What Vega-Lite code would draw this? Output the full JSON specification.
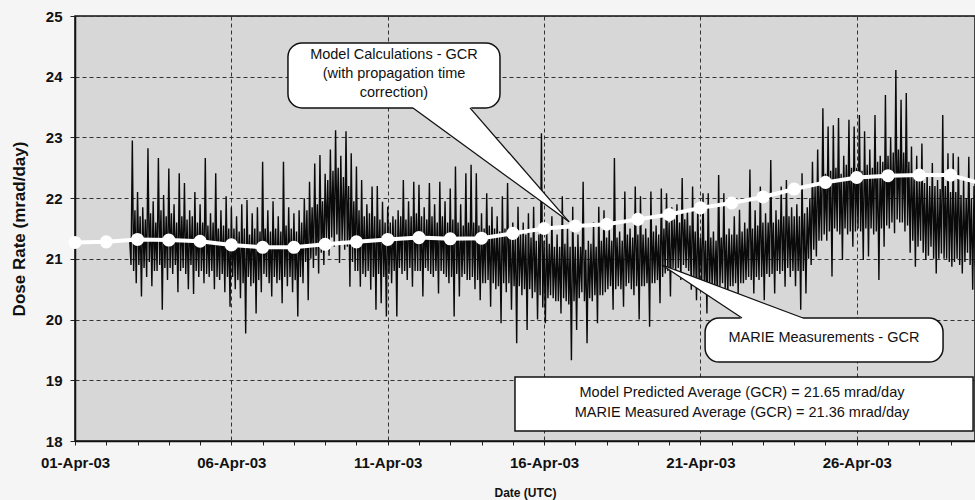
{
"$schema": "https://vega.github.io/schema/vega-lite/v6.json",
"width": 900, "height": 425,
"autosize": {"type": "none"},
"padding": {"left": 75, "top": 16, "right": 0, "bottom": 59},
"background": "#f5f5f5",
"config": {"view": {"fill": "#d7d7d7", "stroke": "#111", "strokeWidth": 1.5}, "font": "Liberation Sans"},
"datasets": {
"meas": [
{"t":"2003-04-02T18:00","v":21.3},{"t":"2003-04-02T19:00","v":20.9},{"t":"2003-04-02T20:00","v":22.95},{"t":"2003-04-02T21:00","v":20.8},{"t":"2003-04-02T22:00","v":21.8},{"t":"2003-04-02T23:00","v":20.6},
{"t":"2003-04-03T00:00","v":22.1},{"t":"2003-04-03T01:00","v":20.9},{"t":"2003-04-03T02:00","v":21.7},{"t":"2003-04-03T03:00","v":20.38},{"t":"2003-04-03T04:00","v":21.85},{"t":"2003-04-03T05:00","v":20.85},{"t":"2003-04-03T06:00","v":21.65},{"t":"2003-04-03T07:00","v":20.7},{"t":"2003-04-03T08:00","v":22.82},{"t":"2003-04-03T09:00","v":20.95},{"t":"2003-04-03T10:00","v":21.75},{"t":"2003-04-03T11:00","v":20.55},{"t":"2003-04-03T12:00","v":21.95},{"t":"2003-04-03T13:00","v":20.8},{"t":"2003-04-03T14:00","v":21.6},{"t":"2003-04-03T15:00","v":20.8},{"t":"2003-04-03T16:00","v":22.66},{"t":"2003-04-03T17:00","v":20.9},{"t":"2003-04-03T18:00","v":21.8},{"t":"2003-04-03T19:00","v":20.16},{"t":"2003-04-03T20:00","v":22.05},{"t":"2003-04-03T21:00","v":20.85},{"t":"2003-04-03T22:00","v":21.7},{"t":"2003-04-03T23:00","v":20.65},
{"t":"2003-04-04T00:00","v":22.49},{"t":"2003-04-04T01:00","v":20.85},{"t":"2003-04-04T02:00","v":21.75},{"t":"2003-04-04T03:00","v":20.75},{"t":"2003-04-04T04:00","v":21.9},{"t":"2003-04-04T05:00","v":20.9},{"t":"2003-04-04T06:00","v":21.6},{"t":"2003-04-04T07:00","v":20.45},{"t":"2003-04-04T08:00","v":22.41},{"t":"2003-04-04T09:00","v":20.8},{"t":"2003-04-04T10:00","v":21.7},{"t":"2003-04-04T11:00","v":20.85},{"t":"2003-04-04T12:00","v":22.25},{"t":"2003-04-04T13:00","v":20.75},{"t":"2003-04-04T14:00","v":21.65},{"t":"2003-04-04T15:00","v":20.5},{"t":"2003-04-04T16:00","v":21.8},{"t":"2003-04-04T17:00","v":20.9},{"t":"2003-04-04T18:00","v":21.7},{"t":"2003-04-04T19:00","v":20.42},{"t":"2003-04-04T20:00","v":22.1},{"t":"2003-04-04T21:00","v":20.8},{"t":"2003-04-04T22:00","v":21.6},{"t":"2003-04-04T23:00","v":20.7},
{"t":"2003-04-05T00:00","v":21.9},{"t":"2003-04-05T01:00","v":20.8},{"t":"2003-04-05T02:00","v":21.6},{"t":"2003-04-05T03:00","v":20.6},{"t":"2003-04-05T04:00","v":22.66},{"t":"2003-04-05T05:00","v":20.75},{"t":"2003-04-05T06:00","v":21.55},{"t":"2003-04-05T07:00","v":20.7},{"t":"2003-04-05T08:00","v":21.75},{"t":"2003-04-05T09:00","v":20.8},{"t":"2003-04-05T10:00","v":21.6},{"t":"2003-04-05T11:00","v":20.5},{"t":"2003-04-05T12:00","v":22.41},{"t":"2003-04-05T13:00","v":20.7},{"t":"2003-04-05T14:00","v":21.5},{"t":"2003-04-05T15:00","v":20.65},{"t":"2003-04-05T16:00","v":21.8},{"t":"2003-04-05T17:00","v":20.75},{"t":"2003-04-05T18:00","v":21.55},{"t":"2003-04-05T19:00","v":20.45},{"t":"2003-04-05T20:00","v":22.03},{"t":"2003-04-05T21:00","v":20.7},{"t":"2003-04-05T22:00","v":21.5},{"t":"2003-04-05T23:00","v":20.21},
{"t":"2003-04-06T00:00","v":21.85},{"t":"2003-04-06T01:00","v":20.7},{"t":"2003-04-06T02:00","v":21.5},{"t":"2003-04-06T03:00","v":20.5},{"t":"2003-04-06T04:00","v":21.7},{"t":"2003-04-06T05:00","v":20.65},{"t":"2003-04-06T06:00","v":21.45},{"t":"2003-04-06T07:00","v":20.35},{"t":"2003-04-06T08:00","v":21.9},{"t":"2003-04-06T09:00","v":20.6},{"t":"2003-04-06T10:00","v":21.5},{"t":"2003-04-06T11:00","v":19.77},{"t":"2003-04-06T12:00","v":21.97},{"t":"2003-04-06T13:00","v":20.7},{"t":"2003-04-06T14:00","v":21.4},{"t":"2003-04-06T15:00","v":20.55},{"t":"2003-04-06T16:00","v":21.75},{"t":"2003-04-06T17:00","v":20.6},{"t":"2003-04-06T18:00","v":21.5},{"t":"2003-04-06T19:00","v":20.1},{"t":"2003-04-06T20:00","v":21.85},{"t":"2003-04-06T21:00","v":20.65},{"t":"2003-04-06T22:00","v":21.45},{"t":"2003-04-06T23:00","v":20.45},
{"t":"2003-04-07T00:00","v":22.6},{"t":"2003-04-07T01:00","v":20.75},{"t":"2003-04-07T02:00","v":21.5},{"t":"2003-04-07T03:00","v":20.7},{"t":"2003-04-07T04:00","v":21.8},{"t":"2003-04-07T05:00","v":20.6},{"t":"2003-04-07T06:00","v":21.45},{"t":"2003-04-07T07:00","v":20.38},{"t":"2003-04-07T08:00","v":21.95},{"t":"2003-04-07T09:00","v":20.7},{"t":"2003-04-07T10:00","v":21.5},{"t":"2003-04-07T11:00","v":20.6},{"t":"2003-04-07T12:00","v":21.7},{"t":"2003-04-07T13:00","v":20.65},{"t":"2003-04-07T14:00","v":21.45},{"t":"2003-04-07T15:00","v":20.27},{"t":"2003-04-07T16:00","v":22.6},{"t":"2003-04-07T17:00","v":20.7},{"t":"2003-04-07T18:00","v":21.55},{"t":"2003-04-07T19:00","v":20.55},{"t":"2003-04-07T20:00","v":21.85},{"t":"2003-04-07T21:00","v":20.7},{"t":"2003-04-07T22:00","v":21.5},{"t":"2003-04-07T23:00","v":20.45},
{"t":"2003-04-08T00:00","v":21.75},{"t":"2003-04-08T01:00","v":20.65},{"t":"2003-04-08T02:00","v":21.45},{"t":"2003-04-08T03:00","v":20.05},{"t":"2003-04-08T04:00","v":21.8},{"t":"2003-04-08T05:00","v":20.7},{"t":"2003-04-08T06:00","v":21.6},{"t":"2003-04-08T07:00","v":20.6},{"t":"2003-04-08T08:00","v":22.0},{"t":"2003-04-08T09:00","v":20.95},{"t":"2003-04-08T10:00","v":21.8},{"t":"2003-04-08T11:00","v":20.32},{"t":"2003-04-08T12:00","v":22.27},{"t":"2003-04-08T13:00","v":21.0},{"t":"2003-04-08T14:00","v":21.85},{"t":"2003-04-08T15:00","v":20.85},{"t":"2003-04-08T16:00","v":22.57},{"t":"2003-04-08T17:00","v":21.05},{"t":"2003-04-08T18:00","v":21.9},{"t":"2003-04-08T19:00","v":20.76},{"t":"2003-04-08T20:00","v":22.71},{"t":"2003-04-08T21:00","v":21.1},{"t":"2003-04-08T22:00","v":21.95},{"t":"2003-04-08T23:00","v":20.9},
{"t":"2003-04-09T00:00","v":22.4},{"t":"2003-04-09T01:00","v":21.3},{"t":"2003-04-09T02:00","v":22.3},{"t":"2003-04-09T03:00","v":21.05},{"t":"2003-04-09T04:00","v":22.8},{"t":"2003-04-09T05:00","v":21.35},{"t":"2003-04-09T06:00","v":22.45},{"t":"2003-04-09T07:00","v":21.2},{"t":"2003-04-09T08:00","v":23.12},{"t":"2003-04-09T09:00","v":21.4},{"t":"2003-04-09T10:00","v":22.5},{"t":"2003-04-09T11:00","v":20.93},{"t":"2003-04-09T12:00","v":22.7},{"t":"2003-04-09T13:00","v":21.3},{"t":"2003-04-09T14:00","v":22.35},{"t":"2003-04-09T15:00","v":21.15},{"t":"2003-04-09T16:00","v":23.1},{"t":"2003-04-09T17:00","v":21.2},{"t":"2003-04-09T18:00","v":22.2},{"t":"2003-04-09T19:00","v":20.54},{"t":"2003-04-09T20:00","v":22.74},{"t":"2003-04-09T21:00","v":20.95},{"t":"2003-04-09T22:00","v":21.95},{"t":"2003-04-09T23:00","v":20.8},
{"t":"2003-04-10T00:00","v":22.52},{"t":"2003-04-10T01:00","v":20.8},{"t":"2003-04-10T02:00","v":21.8},{"t":"2003-04-10T03:00","v":20.54},{"t":"2003-04-10T04:00","v":22.3},{"t":"2003-04-10T05:00","v":20.75},{"t":"2003-04-10T06:00","v":21.7},{"t":"2003-04-10T07:00","v":20.7},{"t":"2003-04-10T08:00","v":21.9},{"t":"2003-04-10T09:00","v":20.8},{"t":"2003-04-10T10:00","v":21.75},{"t":"2003-04-10T11:00","v":20.49},{"t":"2003-04-10T12:00","v":22.19},{"t":"2003-04-10T13:00","v":20.7},{"t":"2003-04-10T14:00","v":21.7},{"t":"2003-04-10T15:00","v":20.16},{"t":"2003-04-10T16:00","v":22.2},{"t":"2003-04-10T17:00","v":20.75},{"t":"2003-04-10T18:00","v":21.65},{"t":"2003-04-10T19:00","v":20.27},{"t":"2003-04-10T20:00","v":21.94},{"t":"2003-04-10T21:00","v":20.7},{"t":"2003-04-10T22:00","v":21.6},{"t":"2003-04-10T23:00","v":20.05},
{"t":"2003-04-11T00:00","v":21.86},{"t":"2003-04-11T01:00","v":20.75},{"t":"2003-04-11T02:00","v":21.6},{"t":"2003-04-11T03:00","v":20.6},{"t":"2003-04-11T04:00","v":21.7},{"t":"2003-04-11T05:00","v":20.8},{"t":"2003-04-11T06:00","v":21.65},{"t":"2003-04-11T07:00","v":20.05},{"t":"2003-04-11T08:00","v":21.8},{"t":"2003-04-11T09:00","v":20.85},{"t":"2003-04-11T10:00","v":21.7},{"t":"2003-04-11T11:00","v":20.75},{"t":"2003-04-11T12:00","v":22.3},{"t":"2003-04-11T13:00","v":20.8},{"t":"2003-04-11T14:00","v":21.65},{"t":"2003-04-11T15:00","v":20.65},{"t":"2003-04-11T16:00","v":21.95},{"t":"2003-04-11T17:00","v":20.85},{"t":"2003-04-11T18:00","v":21.7},{"t":"2003-04-11T19:00","v":20.54},{"t":"2003-04-11T20:00","v":22.27},{"t":"2003-04-11T21:00","v":20.8},{"t":"2003-04-11T22:00","v":21.75},{"t":"2003-04-11T23:00","v":20.8},
{"t":"2003-04-12T00:00","v":22.22},{"t":"2003-04-12T01:00","v":20.8},{"t":"2003-04-12T02:00","v":21.7},{"t":"2003-04-12T03:00","v":20.38},{"t":"2003-04-12T04:00","v":21.85},{"t":"2003-04-12T05:00","v":20.85},{"t":"2003-04-12T06:00","v":21.65},{"t":"2003-04-12T07:00","v":20.8},{"t":"2003-04-12T08:00","v":22.25},{"t":"2003-04-12T09:00","v":20.75},{"t":"2003-04-12T10:00","v":21.7},{"t":"2003-04-12T11:00","v":20.7},{"t":"2003-04-12T12:00","v":21.9},{"t":"2003-04-12T13:00","v":20.8},{"t":"2003-04-12T14:00","v":21.6},{"t":"2003-04-12T15:00","v":20.43},{"t":"2003-04-12T16:00","v":22.27},{"t":"2003-04-12T17:00","v":20.8},{"t":"2003-04-12T18:00","v":21.7},{"t":"2003-04-12T19:00","v":20.75},{"t":"2003-04-12T20:00","v":21.95},{"t":"2003-04-12T21:00","v":20.7},{"t":"2003-04-12T22:00","v":21.6},{"t":"2003-04-12T23:00","v":20.6},
{"t":"2003-04-13T00:00","v":22.16},{"t":"2003-04-13T01:00","v":20.7},{"t":"2003-04-13T02:00","v":21.65},{"t":"2003-04-13T03:00","v":20.05},{"t":"2003-04-13T04:00","v":22.52},{"t":"2003-04-13T05:00","v":20.75},{"t":"2003-04-13T06:00","v":21.6},{"t":"2003-04-13T07:00","v":20.38},{"t":"2003-04-13T08:00","v":21.9},{"t":"2003-04-13T09:00","v":20.7},{"t":"2003-04-13T10:00","v":21.55},{"t":"2003-04-13T11:00","v":20.75},{"t":"2003-04-13T12:00","v":22.41},{"t":"2003-04-13T13:00","v":20.65},{"t":"2003-04-13T14:00","v":21.6},{"t":"2003-04-13T15:00","v":20.65},{"t":"2003-04-13T16:00","v":22.55},{"t":"2003-04-13T17:00","v":20.7},{"t":"2003-04-13T18:00","v":21.6},{"t":"2003-04-13T19:00","v":20.5},{"t":"2003-04-13T20:00","v":22.41},{"t":"2003-04-13T21:00","v":20.65},{"t":"2003-04-13T22:00","v":21.55},{"t":"2003-04-13T23:00","v":20.32},
{"t":"2003-04-14T00:00","v":21.75},{"t":"2003-04-14T01:00","v":20.6},{"t":"2003-04-14T02:00","v":21.5},{"t":"2003-04-14T03:00","v":20.6},{"t":"2003-04-14T04:00","v":22.08},{"t":"2003-04-14T05:00","v":20.65},{"t":"2003-04-14T06:00","v":21.55},{"t":"2003-04-14T07:00","v":20.21},{"t":"2003-04-14T08:00","v":21.86},{"t":"2003-04-14T09:00","v":20.6},{"t":"2003-04-14T10:00","v":21.5},{"t":"2003-04-14T11:00","v":20.5},{"t":"2003-04-14T12:00","v":21.7},{"t":"2003-04-14T13:00","v":20.55},{"t":"2003-04-14T14:00","v":21.45},{"t":"2003-04-14T15:00","v":19.94},{"t":"2003-04-14T16:00","v":22.03},{"t":"2003-04-14T17:00","v":20.6},{"t":"2003-04-14T18:00","v":21.5},{"t":"2003-04-14T19:00","v":20.45},{"t":"2003-04-14T20:00","v":22.25},{"t":"2003-04-14T21:00","v":20.6},{"t":"2003-04-14T22:00","v":21.45},{"t":"2003-04-14T23:00","v":20.16},
{"t":"2003-04-15T00:00","v":21.6},{"t":"2003-04-15T01:00","v":20.55},{"t":"2003-04-15T02:00","v":21.45},{"t":"2003-04-15T03:00","v":19.61},{"t":"2003-04-15T04:00","v":21.86},{"t":"2003-04-15T05:00","v":20.55},{"t":"2003-04-15T06:00","v":21.4},{"t":"2003-04-15T07:00","v":20.4},{"t":"2003-04-15T08:00","v":21.6},{"t":"2003-04-15T09:00","v":20.5},{"t":"2003-04-15T10:00","v":21.4},{"t":"2003-04-15T11:00","v":19.83},{"t":"2003-04-15T12:00","v":21.75},{"t":"2003-04-15T13:00","v":20.5},{"t":"2003-04-15T14:00","v":21.35},{"t":"2003-04-15T15:00","v":20.35},{"t":"2003-04-15T16:00","v":21.86},{"t":"2003-04-15T17:00","v":20.45},{"t":"2003-04-15T18:00","v":21.3},{"t":"2003-04-15T19:00","v":20.0},{"t":"2003-04-15T20:00","v":21.4},{"t":"2003-04-15T21:00","v":20.4},{"t":"2003-04-15T22:00","v":23.07},{"t":"2003-04-15T23:00","v":20.2},
{"t":"2003-04-16T00:00","v":21.3},{"t":"2003-04-16T01:00","v":19.94},{"t":"2003-04-16T02:00","v":21.55},{"t":"2003-04-16T03:00","v":20.35},{"t":"2003-04-16T04:00","v":21.25},{"t":"2003-04-16T05:00","v":20.4},{"t":"2003-04-16T06:00","v":21.7},{"t":"2003-04-16T07:00","v":20.35},{"t":"2003-04-16T08:00","v":21.2},{"t":"2003-04-16T09:00","v":20.3},{"t":"2003-04-16T10:00","v":21.4},{"t":"2003-04-16T11:00","v":20.3},{"t":"2003-04-16T12:00","v":21.2},{"t":"2003-04-16T13:00","v":20.1},{"t":"2003-04-16T14:00","v":22.03},{"t":"2003-04-16T15:00","v":20.35},{"t":"2003-04-16T16:00","v":21.25},{"t":"2003-04-16T17:00","v":20.3},{"t":"2003-04-16T18:00","v":21.5},{"t":"2003-04-16T19:00","v":20.25},{"t":"2003-04-16T20:00","v":21.2},{"t":"2003-04-16T21:00","v":19.33},{"t":"2003-04-16T22:00","v":21.86},{"t":"2003-04-16T23:00","v":20.3},
{"t":"2003-04-17T00:00","v":21.2},{"t":"2003-04-17T01:00","v":19.83},{"t":"2003-04-17T02:00","v":21.4},{"t":"2003-04-17T03:00","v":20.35},{"t":"2003-04-17T04:00","v":21.2},{"t":"2003-04-17T05:00","v":20.45},{"t":"2003-04-17T06:00","v":22.27},{"t":"2003-04-17T07:00","v":20.3},{"t":"2003-04-17T08:00","v":21.15},{"t":"2003-04-17T09:00","v":19.61},{"t":"2003-04-17T10:00","v":21.3},{"t":"2003-04-17T11:00","v":20.35},{"t":"2003-04-17T12:00","v":21.25},{"t":"2003-04-17T13:00","v":20.3},{"t":"2003-04-17T14:00","v":21.6},{"t":"2003-04-17T15:00","v":20.4},{"t":"2003-04-17T16:00","v":21.2},{"t":"2003-04-17T17:00","v":19.94},{"t":"2003-04-17T18:00","v":21.86},{"t":"2003-04-17T19:00","v":20.4},{"t":"2003-04-17T20:00","v":21.3},{"t":"2003-04-17T21:00","v":20.4},{"t":"2003-04-17T22:00","v":21.8},{"t":"2003-04-17T23:00","v":20.45},
{"t":"2003-04-18T00:00","v":21.35},{"t":"2003-04-18T01:00","v":20.5},{"t":"2003-04-18T02:00","v":21.5},{"t":"2003-04-18T03:00","v":20.55},{"t":"2003-04-18T04:00","v":21.3},{"t":"2003-04-18T05:00","v":20.16},{"t":"2003-04-18T06:00","v":22.66},{"t":"2003-04-18T07:00","v":20.5},{"t":"2003-04-18T08:00","v":21.35},{"t":"2003-04-18T09:00","v":20.55},{"t":"2003-04-18T10:00","v":21.45},{"t":"2003-04-18T11:00","v":20.5},{"t":"2003-04-18T12:00","v":21.3},{"t":"2003-04-18T13:00","v":20.21},{"t":"2003-04-18T14:00","v":22.11},{"t":"2003-04-18T15:00","v":20.55},{"t":"2003-04-18T16:00","v":21.4},{"t":"2003-04-18T17:00","v":20.6},{"t":"2003-04-18T18:00","v":21.5},{"t":"2003-04-18T19:00","v":20.5},{"t":"2003-04-18T20:00","v":21.35},{"t":"2003-04-18T21:00","v":20.4},{"t":"2003-04-18T22:00","v":22.19},{"t":"2003-04-18T23:00","v":20.55},
{"t":"2003-04-19T00:00","v":21.4},{"t":"2003-04-19T01:00","v":20.0},{"t":"2003-04-19T02:00","v":22.03},{"t":"2003-04-19T03:00","v":20.55},{"t":"2003-04-19T04:00","v":21.4},{"t":"2003-04-19T05:00","v":20.55},{"t":"2003-04-19T06:00","v":21.5},{"t":"2003-04-19T07:00","v":20.6},{"t":"2003-04-19T08:00","v":21.35},{"t":"2003-04-19T09:00","v":19.88},{"t":"2003-04-19T10:00","v":22.11},{"t":"2003-04-19T11:00","v":20.6},{"t":"2003-04-19T12:00","v":21.45},{"t":"2003-04-19T13:00","v":20.6},{"t":"2003-04-19T14:00","v":21.55},{"t":"2003-04-19T15:00","v":20.65},{"t":"2003-04-19T16:00","v":21.4},{"t":"2003-04-19T17:00","v":20.27},{"t":"2003-04-19T18:00","v":22.16},{"t":"2003-04-19T19:00","v":20.7},{"t":"2003-04-19T20:00","v":21.5},{"t":"2003-04-19T21:00","v":20.76},{"t":"2003-04-19T22:00","v":22.08},{"t":"2003-04-19T23:00","v":20.8},
{"t":"2003-04-20T00:00","v":21.6},{"t":"2003-04-20T01:00","v":20.38},{"t":"2003-04-20T02:00","v":21.85},{"t":"2003-04-20T03:00","v":20.85},{"t":"2003-04-20T04:00","v":21.65},{"t":"2003-04-20T05:00","v":20.8},{"t":"2003-04-20T06:00","v":21.9},{"t":"2003-04-20T07:00","v":20.85},{"t":"2003-04-20T08:00","v":21.6},{"t":"2003-04-20T09:00","v":20.65},{"t":"2003-04-20T10:00","v":22.33},{"t":"2003-04-20T11:00","v":20.9},{"t":"2003-04-20T12:00","v":21.65},{"t":"2003-04-20T13:00","v":20.85},{"t":"2003-04-20T14:00","v":21.8},{"t":"2003-04-20T15:00","v":20.8},{"t":"2003-04-20T16:00","v":21.55},{"t":"2003-04-20T17:00","v":20.49},{"t":"2003-04-20T18:00","v":22.19},{"t":"2003-04-20T19:00","v":20.7},{"t":"2003-04-20T20:00","v":21.45},{"t":"2003-04-20T21:00","v":20.32},{"t":"2003-04-20T22:00","v":21.9},{"t":"2003-04-20T23:00","v":20.6},
{"t":"2003-04-21T00:00","v":21.35},{"t":"2003-04-21T01:00","v":20.6},{"t":"2003-04-21T02:00","v":22.08},{"t":"2003-04-21T03:00","v":20.55},{"t":"2003-04-21T04:00","v":21.3},{"t":"2003-04-21T05:00","v":20.1},{"t":"2003-04-21T06:00","v":22.08},{"t":"2003-04-21T07:00","v":20.5},{"t":"2003-04-21T08:00","v":21.35},{"t":"2003-04-21T09:00","v":20.55},{"t":"2003-04-21T10:00","v":21.45},{"t":"2003-04-21T11:00","v":20.5},{"t":"2003-04-21T12:00","v":21.3},{"t":"2003-04-21T13:00","v":20.32},{"t":"2003-04-21T14:00","v":22.38},{"t":"2003-04-21T15:00","v":20.55},{"t":"2003-04-21T16:00","v":21.35},{"t":"2003-04-21T17:00","v":20.6},{"t":"2003-04-21T18:00","v":22.08},{"t":"2003-04-21T19:00","v":20.5},{"t":"2003-04-21T20:00","v":21.4},{"t":"2003-04-21T21:00","v":20.38},{"t":"2003-04-21T22:00","v":21.5},{"t":"2003-04-21T23:00","v":20.55},
{"t":"2003-04-22T00:00","v":21.4},{"t":"2003-04-22T01:00","v":20.55},{"t":"2003-04-22T02:00","v":21.7},{"t":"2003-04-22T03:00","v":20.6},{"t":"2003-04-22T04:00","v":21.4},{"t":"2003-04-22T05:00","v":20.43},{"t":"2003-04-22T06:00","v":21.81},{"t":"2003-04-22T07:00","v":20.6},{"t":"2003-04-22T08:00","v":21.45},{"t":"2003-04-22T09:00","v":20.6},{"t":"2003-04-22T10:00","v":21.6},{"t":"2003-04-22T11:00","v":20.65},{"t":"2003-04-22T12:00","v":21.5},{"t":"2003-04-22T13:00","v":20.7},{"t":"2003-04-22T14:00","v":22.47},{"t":"2003-04-22T15:00","v":20.65},{"t":"2003-04-22T16:00","v":21.5},{"t":"2003-04-22T17:00","v":20.43},{"t":"2003-04-22T18:00","v":21.8},{"t":"2003-04-22T19:00","v":20.7},{"t":"2003-04-22T20:00","v":21.55},{"t":"2003-04-22T21:00","v":20.65},{"t":"2003-04-22T22:00","v":22.19},{"t":"2003-04-22T23:00","v":20.7},
{"t":"2003-04-23T00:00","v":21.6},{"t":"2003-04-23T01:00","v":20.32},{"t":"2003-04-23T02:00","v":21.75},{"t":"2003-04-23T03:00","v":20.75},{"t":"2003-04-23T04:00","v":21.6},{"t":"2003-04-23T05:00","v":20.7},{"t":"2003-04-23T06:00","v":22.63},{"t":"2003-04-23T07:00","v":20.75},{"t":"2003-04-23T08:00","v":21.6},{"t":"2003-04-23T09:00","v":20.43},{"t":"2003-04-23T10:00","v":21.8},{"t":"2003-04-23T11:00","v":20.8},{"t":"2003-04-23T12:00","v":21.65},{"t":"2003-04-23T13:00","v":20.75},{"t":"2003-04-23T14:00","v":22.19},{"t":"2003-04-23T15:00","v":20.8},{"t":"2003-04-23T16:00","v":21.7},{"t":"2003-04-23T17:00","v":20.54},{"t":"2003-04-23T18:00","v":22.3},{"t":"2003-04-23T19:00","v":20.85},{"t":"2003-04-23T20:00","v":21.7},{"t":"2003-04-23T21:00","v":20.7},{"t":"2003-04-23T22:00","v":21.85},{"t":"2003-04-23T23:00","v":20.8},
{"t":"2003-04-24T00:00","v":21.7},{"t":"2003-04-24T01:00","v":20.55},{"t":"2003-04-24T02:00","v":21.9},{"t":"2003-04-24T03:00","v":20.8},{"t":"2003-04-24T04:00","v":21.7},{"t":"2003-04-24T05:00","v":20.16},{"t":"2003-04-24T06:00","v":22.41},{"t":"2003-04-24T07:00","v":20.8},{"t":"2003-04-24T08:00","v":21.75},{"t":"2003-04-24T09:00","v":20.43},{"t":"2003-04-24T10:00","v":21.85},{"t":"2003-04-24T11:00","v":21.0},{"t":"2003-04-24T12:00","v":22.0},{"t":"2003-04-24T13:00","v":20.9},{"t":"2003-04-24T14:00","v":22.6},{"t":"2003-04-24T15:00","v":21.15},{"t":"2003-04-24T16:00","v":22.2},{"t":"2003-04-24T17:00","v":21.04},{"t":"2003-04-24T18:00","v":22.8},{"t":"2003-04-24T19:00","v":21.3},{"t":"2003-04-24T20:00","v":22.3},{"t":"2003-04-24T21:00","v":21.3},{"t":"2003-04-24T22:00","v":23.48},{"t":"2003-04-24T23:00","v":21.4},
{"t":"2003-04-25T00:00","v":22.4},{"t":"2003-04-25T01:00","v":21.3},{"t":"2003-04-25T02:00","v":23.18},{"t":"2003-04-25T03:00","v":21.45},{"t":"2003-04-25T04:00","v":22.45},{"t":"2003-04-25T05:00","v":20.71},{"t":"2003-04-25T06:00","v":23.2},{"t":"2003-04-25T07:00","v":21.5},{"t":"2003-04-25T08:00","v":22.5},{"t":"2003-04-25T09:00","v":21.45},{"t":"2003-04-25T10:00","v":23.32},{"t":"2003-04-25T11:00","v":21.4},{"t":"2003-04-25T12:00","v":22.4},{"t":"2003-04-25T13:00","v":20.98},{"t":"2003-04-25T14:00","v":22.7},{"t":"2003-04-25T15:00","v":21.5},{"t":"2003-04-25T16:00","v":22.55},{"t":"2003-04-25T17:00","v":21.4},{"t":"2003-04-25T18:00","v":23.29},{"t":"2003-04-25T19:00","v":21.45},{"t":"2003-04-25T20:00","v":22.5},{"t":"2003-04-25T21:00","v":21.2},{"t":"2003-04-25T22:00","v":23.18},{"t":"2003-04-25T23:00","v":21.45},
{"t":"2003-04-26T00:00","v":22.5},{"t":"2003-04-26T01:00","v":21.5},{"t":"2003-04-26T02:00","v":23.37},{"t":"2003-04-26T03:00","v":21.45},{"t":"2003-04-26T04:00","v":22.45},{"t":"2003-04-26T05:00","v":20.98},{"t":"2003-04-26T06:00","v":23.1},{"t":"2003-04-26T07:00","v":21.5},{"t":"2003-04-26T08:00","v":22.55},{"t":"2003-04-26T09:00","v":21.04},{"t":"2003-04-26T10:00","v":22.8},{"t":"2003-04-26T11:00","v":21.5},{"t":"2003-04-26T12:00","v":22.5},{"t":"2003-04-26T13:00","v":21.4},{"t":"2003-04-26T14:00","v":23.37},{"t":"2003-04-26T15:00","v":21.45},{"t":"2003-04-26T16:00","v":22.6},{"t":"2003-04-26T17:00","v":20.65},{"t":"2003-04-26T18:00","v":22.7},{"t":"2003-04-26T19:00","v":21.5},{"t":"2003-04-26T20:00","v":22.6},{"t":"2003-04-26T21:00","v":21.2},{"t":"2003-04-26T22:00","v":23.7},{"t":"2003-04-26T23:00","v":21.55},
{"t":"2003-04-27T00:00","v":22.7},{"t":"2003-04-27T01:00","v":21.5},{"t":"2003-04-27T02:00","v":23.0},{"t":"2003-04-27T03:00","v":21.6},{"t":"2003-04-27T04:00","v":22.75},{"t":"2003-04-27T05:00","v":21.42},{"t":"2003-04-27T06:00","v":24.11},{"t":"2003-04-27T07:00","v":21.65},{"t":"2003-04-27T08:00","v":22.8},{"t":"2003-04-27T09:00","v":21.6},{"t":"2003-04-27T10:00","v":23.62},{"t":"2003-04-27T11:00","v":21.6},{"t":"2003-04-27T12:00","v":22.75},{"t":"2003-04-27T13:00","v":21.45},{"t":"2003-04-27T14:00","v":23.73},{"t":"2003-04-27T15:00","v":21.55},{"t":"2003-04-27T16:00","v":22.6},{"t":"2003-04-27T17:00","v":21.1},{"t":"2003-04-27T18:00","v":22.85},{"t":"2003-04-27T19:00","v":21.3},{"t":"2003-04-27T20:00","v":22.4},{"t":"2003-04-27T21:00","v":20.87},{"t":"2003-04-27T22:00","v":22.7},{"t":"2003-04-27T23:00","v":21.2},
{"t":"2003-04-28T00:00","v":22.3},{"t":"2003-04-28T01:00","v":21.3},{"t":"2003-04-28T02:00","v":22.9},{"t":"2003-04-28T03:00","v":21.1},{"t":"2003-04-28T04:00","v":22.25},{"t":"2003-04-28T05:00","v":20.98},{"t":"2003-04-28T06:00","v":22.4},{"t":"2003-04-28T07:00","v":21.05},{"t":"2003-04-28T08:00","v":22.2},{"t":"2003-04-28T09:00","v":21.2},{"t":"2003-04-28T10:00","v":22.58},{"t":"2003-04-28T11:00","v":21.0},{"t":"2003-04-28T12:00","v":22.2},{"t":"2003-04-28T13:00","v":20.76},{"t":"2003-04-28T14:00","v":22.3},{"t":"2003-04-28T15:00","v":21.0},{"t":"2003-04-28T16:00","v":22.15},{"t":"2003-04-28T17:00","v":21.09},{"t":"2003-04-28T18:00","v":23.37},{"t":"2003-04-28T19:00","v":21.0},{"t":"2003-04-28T20:00","v":22.2},{"t":"2003-04-28T21:00","v":21.0},{"t":"2003-04-28T22:00","v":22.74},{"t":"2003-04-28T23:00","v":20.95},
{"t":"2003-04-29T00:00","v":22.1},{"t":"2003-04-29T01:00","v":20.87},{"t":"2003-04-29T02:00","v":22.74},{"t":"2003-04-29T03:00","v":20.95},{"t":"2003-04-29T04:00","v":22.1},{"t":"2003-04-29T05:00","v":21.0},{"t":"2003-04-29T06:00","v":22.68},{"t":"2003-04-29T07:00","v":20.9},{"t":"2003-04-29T08:00","v":22.05},{"t":"2003-04-29T09:00","v":20.76},{"t":"2003-04-29T10:00","v":22.3},{"t":"2003-04-29T11:00","v":20.95},{"t":"2003-04-29T12:00","v":22.0},{"t":"2003-04-29T13:00","v":21.1},{"t":"2003-04-29T14:00","v":22.68},{"t":"2003-04-29T15:00","v":20.9},{"t":"2003-04-29T16:00","v":22.0},{"t":"2003-04-29T17:00","v":20.49},{"t":"2003-04-29T18:00","v":22.2},{"t":"2003-04-29T19:00","v":20.87},{"t":"2003-04-29T20:00","v":21.9}
],
"model": [
{"t":"2003-04-01T00:00","v":21.27},{"t":"2003-04-02T00:00","v":21.28},{"t":"2003-04-03T00:00","v":21.32},{"t":"2003-04-04T00:00","v":21.31},{"t":"2003-04-05T00:00","v":21.29},{"t":"2003-04-06T00:00","v":21.23},{"t":"2003-04-07T00:00","v":21.19},{"t":"2003-04-08T00:00","v":21.19},{"t":"2003-04-09T00:00","v":21.24},{"t":"2003-04-10T00:00","v":21.28},
{"t":"2003-04-11T00:00","v":21.32},{"t":"2003-04-12T00:00","v":21.35},{"t":"2003-04-13T00:00","v":21.33},{"t":"2003-04-14T00:00","v":21.34},{"t":"2003-04-15T00:00","v":21.42},{"t":"2003-04-16T00:00","v":21.5},{"t":"2003-04-17T00:00","v":21.54},{"t":"2003-04-18T00:00","v":21.57},{"t":"2003-04-19T00:00","v":21.65},{"t":"2003-04-20T00:00","v":21.73},
{"t":"2003-04-21T00:00","v":21.84},{"t":"2003-04-22T00:00","v":21.92},{"t":"2003-04-23T00:00","v":22.02},{"t":"2003-04-24T00:00","v":22.15},{"t":"2003-04-25T00:00","v":22.26},{"t":"2003-04-26T00:00","v":22.34},{"t":"2003-04-27T00:00","v":22.37},{"t":"2003-04-28T00:00","v":22.38},{"t":"2003-04-29T00:00","v":22.38},{"t":"2003-04-30T00:00","v":22.24}
],
"roundBoxes": [
{"t":"2003-04-07T19:27","t2":"2003-04-14T14:10","v":24.557,"v2":23.486},
{"t":"2003-04-21T03:36","t2":"2003-04-28T18:14","v":20.026,"v2":19.301}
],
"squareBox": [
{"t":"2003-04-15T01:41","t2":"2003-04-29T17:16","v":19.054,"v2":18.165}
],
"tails": [
{"callout":"model","t":"2003-04-11T19:26","v":23.53,"v2":23.486},
{"callout":"model","t":"2003-04-13T15:10","v":23.53,"v2":22.804},
{"callout":"model","t":"2003-04-13T17:28","v":23.43,"v2":22.77},
{"callout":"model","t":"2003-04-16T19:12","v":21.61,"v2":21.61},
{"callout":"marie","t":"2003-04-19T18:29","v":20.9,"v2":20.9},
{"callout":"marie","t":"2003-04-22T05:37","v":20.42,"v2":20.06},
{"callout":"marie","t":"2003-04-22T07:55","v":20.404,"v2":19.99},
{"callout":"marie","t":"2003-04-24T06:43","v":20.026,"v2":19.99}
],
"edges": [
{"edge":"m1","t":"2003-04-11T19:26","v":23.486},{"edge":"m1","t":"2003-04-16T19:12","v":21.61},
{"edge":"m2","t":"2003-04-13T15:10","v":23.486},{"edge":"m2","t":"2003-04-16T19:12","v":21.61},
{"edge":"r1","t":"2003-04-19T18:29","v":20.9},{"edge":"r1","t":"2003-04-22T07:55","v":20.026},
{"edge":"r2","t":"2003-04-19T18:29","v":20.9},{"edge":"r2","t":"2003-04-24T06:43","v":20.026}
],
"labels": [
{"t":"2003-04-11T04:48","v":24.359,"label":"Model Calculations - GCR"},
{"t":"2003-04-11T04:48","v":24.046,"label":"(with propagation time"},
{"t":"2003-04-11T04:48","v":23.733,"label":"correction)"},
{"t":"2003-04-24T22:48","v":19.697,"label":"MARIE Measurements - GCR"},
{"t":"2003-04-22T07:55","v":18.791,"label":"Model Predicted Average (GCR) = 21.65 mrad/day"},
{"t":"2003-04-22T07:55","v":18.461,"label":"MARIE Measured Average (GCR) = 21.36 mrad/day"}
]
},
"encoding": {
"x": {"field": "t", "type": "temporal",
  "scale": {"domain": [{"year":2003,"month":4,"date":1},{"year":2003,"month":4,"date":29,"hours":18,"minutes":45}]},
  "axis": {"title": "Date (UTC)", "tickCount": {"interval": "day", "step": 1},
    "labelExpr": "date(datum.value) % 5 == 1 ? timeFormat(datum.value, '%d-%b-%y') : ''",
    "labelOverlap": false, "labelFlush": false, "labelFont": "Liberation Sans", "labelFontSize": 15, "labelFontWeight": "bold", "labelColor": "#111",
    "labelPadding": 10, "tickSize": 4, "tickColor": "#222", "domainColor": "#111", "domainWidth": 1.5,
    "grid": true, "gridColor": "#333", "gridDash": [4,3], "gridWidth": 1,
    "gridOpacity": {"condition": {"test": "date(datum.value) % 5 == 1", "value": 1}, "value": 0},
    "titleFont": "Liberation Sans", "titleFontSize": 12, "titleFontWeight": "bold", "titleColor": "#111", "titlePadding": 17}},
"y": {"field": "v", "type": "quantitative",
  "scale": {"domain": [18, 25], "nice": false, "zero": false},
  "axis": {"title": "Dose Rate (mrad/day)", "values": [18,19,20,21,22,23,24,25],
    "labelFont": "Liberation Sans", "labelFontSize": 15, "labelFontWeight": "bold", "labelColor": "#111", "labelPadding": 8,
    "tickSize": 5, "tickColor": "#222", "domainColor": "#111", "domainWidth": 1.5,
    "grid": true, "gridColor": "#333", "gridDash": [4,3], "gridWidth": 1,
    "titleFont": "Liberation Sans", "titleFontSize": 17, "titleFontWeight": "bold", "titleColor": "#111", "titlePadding": 17}}
},
"layer": [
{"data": {"name": "meas"}, "mark": {"type": "line", "color": "#0a0a0a", "strokeWidth": 1.4, "clip": true}},
{"data": {"name": "model"}, "mark": {"type": "line", "color": "#ffffff", "strokeWidth": 4, "clip": true}},
{"data": {"name": "model"}, "transform": [{"filter": "datum.t < datetime(2003, 3, 30)"}],
 "mark": {"type": "point", "filled": true, "color": "#ffffff", "opacity": 1, "size": 170}},
{"data": {"name": "roundBoxes"}, "mark": {"type": "rect", "fill": "#ffffff", "stroke": "#111", "strokeWidth": 1.5, "cornerRadius": 14},
 "encoding": {"x2": {"field": "t2"}, "y2": {"field": "v2"}}},
{"data": {"name": "squareBox"}, "mark": {"type": "rect", "fill": "#ffffff", "stroke": "#111", "strokeWidth": 1.5},
 "encoding": {"x2": {"field": "t2"}, "y2": {"field": "v2"}}},
{"data": {"name": "tails"}, "mark": {"type": "area", "fill": "#ffffff", "opacity": 1},
 "encoding": {"y2": {"field": "v2"}, "detail": {"field": "callout"}}},
{"data": {"name": "edges"}, "mark": {"type": "line", "color": "#111", "strokeWidth": 1.3},
 "encoding": {"detail": {"field": "edge"}}},
{"data": {"name": "labels"}, "mark": {"type": "text", "font": "Liberation Sans", "fontSize": 14.5, "color": "#111", "align": "center", "baseline": "middle"},
 "encoding": {"text": {"field": "label"}}}
]
}
